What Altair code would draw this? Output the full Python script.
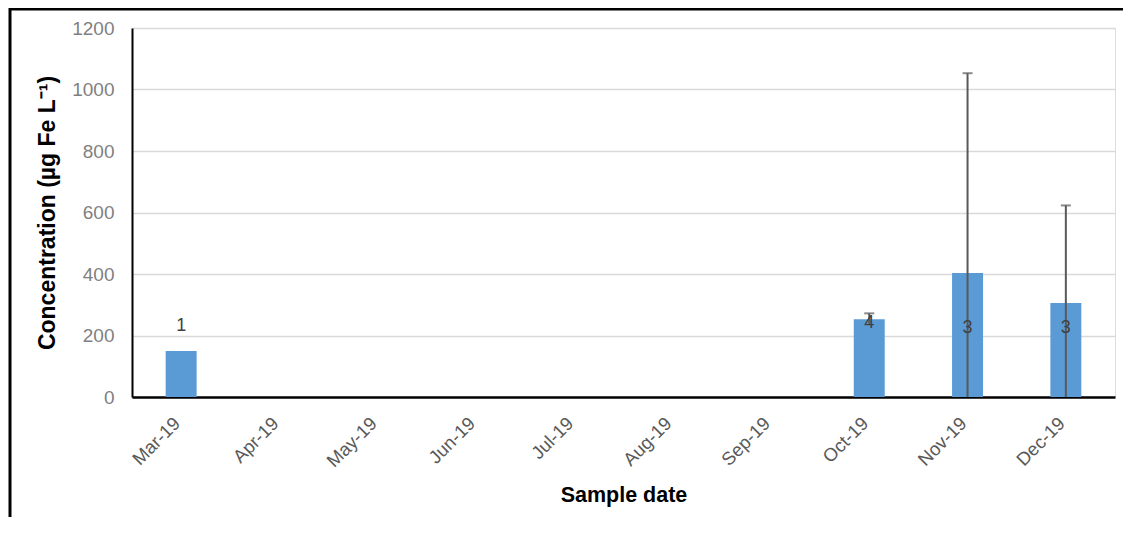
import altair as alt
import pandas as pd

months = ["Mar-19", "Apr-19", "May-19", "Jun-19", "Jul-19", "Aug-19", "Sep-19", "Oct-19", "Nov-19", "Dec-19"]
bar_months = ["Mar-19", "Oct-19", "Nov-19", "Dec-19"]
bar_values = [150, 253, 403, 306]
err_values = [0, 19, 650, 317]
n_labels = ["1", "4", "3", "3"]
label_pos = [230, 240, 224, 224]

df = pd.DataFrame({
    "month": bar_months,
    "value": bar_values,
    "err": err_values,
    "n": n_labels,
    "lpos": label_pos,
})
df["hi"] = df["value"] + df["err"]
df["lo"] = (df["value"] - df["err"]).clip(lower=0)
err_df = df[df["err"] > 0]

FONT = "Liberation Sans"

x = alt.X("month:N", sort=months, scale=alt.Scale(domain=months, paddingInner=0.685, paddingOuter=0.3425),
          axis=alt.Axis(title="Sample date", labelAngle=-45, labelAlign="right", labelBaseline="middle",
                        labelColor="#595959", labelFontSize=18.5, labelFont=FONT, labelPadding=23, labelOffset=-4,
                        ticks=False, domainColor="#000000", domainWidth=2.5,
                        titleFont=FONT, titleFontSize=21.5, titleFontWeight="bold", titleColor="#000000",
                        titleY=98, titleBaseline="middle"))
y = alt.Y("value:Q", scale=alt.Scale(domain=[0, 1200], nice=False),
          axis=alt.Axis(title="Concentration (µg Fe L⁻¹)", values=[0, 200, 400, 600, 800, 1000, 1200], format="d",
                        labelColor="#7f7f7f", labelFontSize=19, labelFont=FONT, labelPadding=18,
                        ticks=False, domainColor="#000000", domainWidth=2,
                        gridColor="#d9d9d9", gridWidth=1.5,
                        titleFont=FONT, titleFontSize=23, titleFontWeight="bold", titleColor="#000000",
                        titleX=-85, titleY=184.5, titleBaseline="middle", titleAngle=-90, titleAlign="center"))

bars = alt.Chart(df).mark_bar(color="#5b9bd5").encode(x=x, y=y)

rules = alt.Chart(err_df).mark_rule(color="#595959", strokeWidth=2).encode(
    x=alt.X("month:N", sort=months), y=alt.Y("lo:Q"), y2="hi:Q")
caps = alt.Chart(err_df).mark_tick(color="#595959", thickness=2, size=10, orient="horizontal").encode(
    x=alt.X("month:N", sort=months), y=alt.Y("hi:Q"))

labels = alt.Chart(df).mark_text(color="#404040", fontSize=18, font=FONT, baseline="middle").encode(
    x=alt.X("month:N", sort=months), y=alt.Y("lpos:Q"), text="n:N")

frame_df = pd.DataFrame({"k": ["a"]})
top_border = alt.Chart(frame_df).mark_rule(color="#000000", strokeWidth=3).encode(
    x=alt.value(-123), x2=alt.value(1000), y=alt.value(-19))
left_border = alt.Chart(frame_df).mark_rule(color="#000000", strokeWidth=3).encode(
    x=alt.value(-122), y=alt.value(-20), y2=alt.value(500))

chart = alt.layer(bars, rules, caps, labels, top_border, left_border).properties(
    width=983, height=369,
    padding={"left": 124, "top": 20, "right": 8, "bottom": 120},
    autosize=alt.AutoSizeParams(type="none"),
).configure_view(stroke=None).configure(background="#ffffff")

chart.save("out.html", embed_options={"renderer": "svg", "actions": False})
